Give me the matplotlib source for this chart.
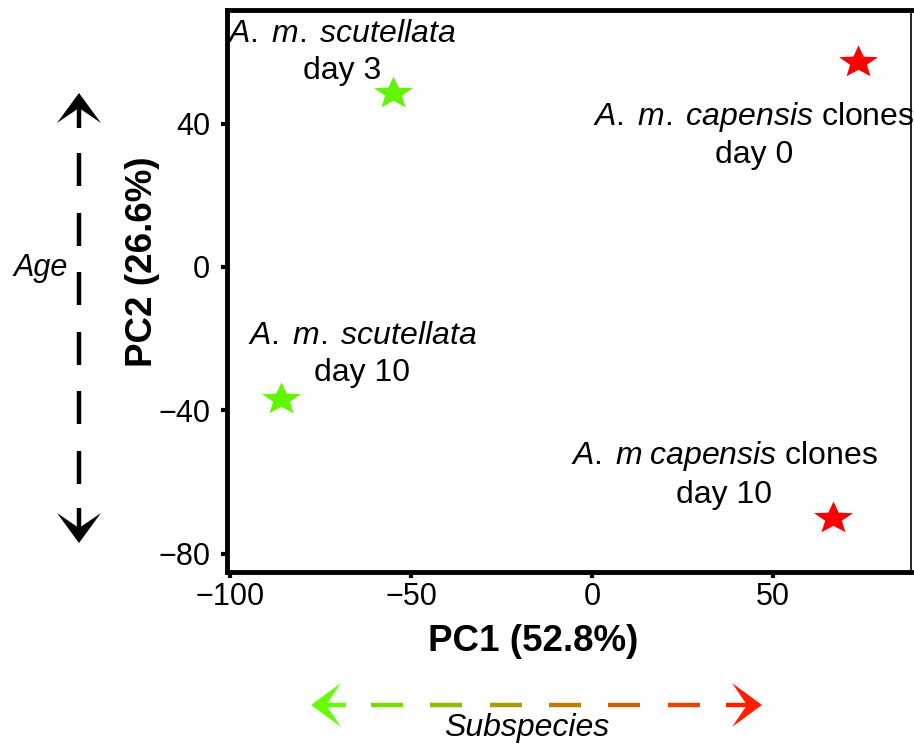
import numpy as np
import matplotlib
matplotlib.use('Agg')
import matplotlib.pyplot as plt
import matplotlib.transforms as mtransforms
from matplotlib.patches import Polygon
from matplotlib.lines import Line2D

plt.rcParams['font.family'] = ['Liberation Sans', 'DejaVu Sans']
plt.rcParams['mathtext.fontset'] = 'custom'
plt.rcParams['mathtext.it'] = 'Liberation Sans:italic'
plt.rcParams['mathtext.rm'] = 'Liberation Sans'

# PCA scores
pc1 = [-55.0, 73.5, -85.9, 66.6]
pc2 = [48.6, 57.2, -36.8, -70.1]
subspecies = ['scutellata', 'capensis', 'scutellata', 'capensis']
labels = [r'$\mathit{A.\;m.\;scutellata}$' + '\nday 3',
          r'$\mathit{A.\;m.\;capensis}$ clones' + '\nday 0',
          r'$\mathit{A.\;m.\;scutellata}$' + '\nday 10',
          r'$\mathit{A.\;m\;capensis}$ clones' + '\nday 10']
# label offsets from each star, in pixels
label_offsets = [(-51, 40), (-104, -73), (81, 44), (-109, 44)]

xticks = [-100, -50, 0, 50]
yticks = [-80, -40, 0, 40]

colors = {'scutellata': '#62f500', 'capensis': '#ff0000'}
green = np.array([0.38, 1.0, 0.0])
red = np.array([1.0, 0.12, 0.0])

W, H = 914, 746
fig = plt.figure(figsize=(W / 100, H / 100), dpi=100)
ax = fig.add_axes([0.2484, 0.2332, 0.7483, 0.7534])

# stretched five-point star marker
ang = np.pi / 2 + np.arange(11) * np.pi / 5
rad = np.where(np.arange(11) % 2 == 0, 1.0, 0.43)
star = np.column_stack([1.2 * rad * np.cos(ang), rad * np.sin(ang)])

for x, y, s in zip(pc1, pc2, subspecies):
    ax.plot(x, y, marker=star, ms=28, color=colors[s], mew=0, ls='none')

for x, y, lab, off in zip(pc1, pc2, labels, label_offsets):
    ax.annotate(lab, (x, y), xytext=off, textcoords='offset pixels',
                ha='center', va='center', multialignment='center',
                fontsize=23, linespacing=1.3)

ax.set_xlim(-100.8, 88.1)
ax.set_ylim(-85.1, 71.7)
ax.set_xticks(xticks)
ax.set_yticks(yticks)
ax.tick_params(direction='out', length=4, width=3, labelsize=22)
ax.tick_params(axis='x', pad=3)
ax.tick_params(axis='y', pad=8)
for side in ['left', 'top', 'bottom']:
    ax.spines[side].set_linewidth(3.5)
ax.spines['right'].set_linewidth(1.2)

ax.set_xlabel('PC1 (52.8%)', fontsize=26.5, fontweight='bold', va='center')
ax.set_ylabel('PC2 (26.6%)', fontsize=26.5, fontweight='bold', va='center', ha='center')
ax.xaxis.set_label_coords(0.447, -0.1228)
ax.yaxis.set_label_coords(-0.1243, 0.5516)

# pixel coordinates, origin top left
px = mtransforms.Affine2D().scale(1 / W, -1 / H).translate(0, 1) + fig.transFigure


def head(tip, d, color):
    tip = np.array(tip, float)
    d = np.array(d, float)
    n = np.array([-d[1], d[0]])
    pts = [tip, tip - 30 * d + 22 * n, tip - 15 * d, tip - 30 * d - 22 * n]
    fig.add_artist(Polygon(pts, closed=True, transform=px, facecolor=color, lw=0))


def seg(p0, p1, color):
    fig.add_artist(Line2D([p0[0], p1[0]], [p0[1], p1[1]], transform=px,
                          lw=3.2, color=color, solid_capstyle='butt'))


# Age arrow
ax_x = 79
head((ax_x, 93), (0, -1), 'black')
seg((ax_x, 106), (ax_x, 128), 'black')
for i in range(6):
    y0 = 153 + i * 59.5
    seg((ax_x, y0), (ax_x, y0 + 33), 'black')
seg((ax_x, 508), (ax_x, 530), 'black')
head((ax_x, 543), (0, 1), 'black')
fig.text(41, 268, 'Age', transform=px, fontsize=22, style='italic',
         ha='center', va='center')

# Subspecies arrow with colour gradient
sy = 705
x_left, x_right = 311, 762


def grad(x):
    t = (x - x_left) / (x_right - x_left)
    return tuple((1 - t) * green + t * red)


head((x_left, sy), (-1, 0), grad(x_left))
seg((x_left + 12, sy), (346, sy), grad(x_left))
for i in range(6):
    x0 = 371 + i * 59.3
    seg((x0, sy), (x0 + 32, sy), grad(x0 + 16))
seg((726, sy), (x_right - 12, sy), grad(x_right))
head((x_right, sy), (1, 0), grad(x_right))
fig.text(527, 728, 'Subspecies', transform=px, fontsize=23, style='italic',
         ha='center', va='center')

fig.savefig('out.png', dpi=100)
